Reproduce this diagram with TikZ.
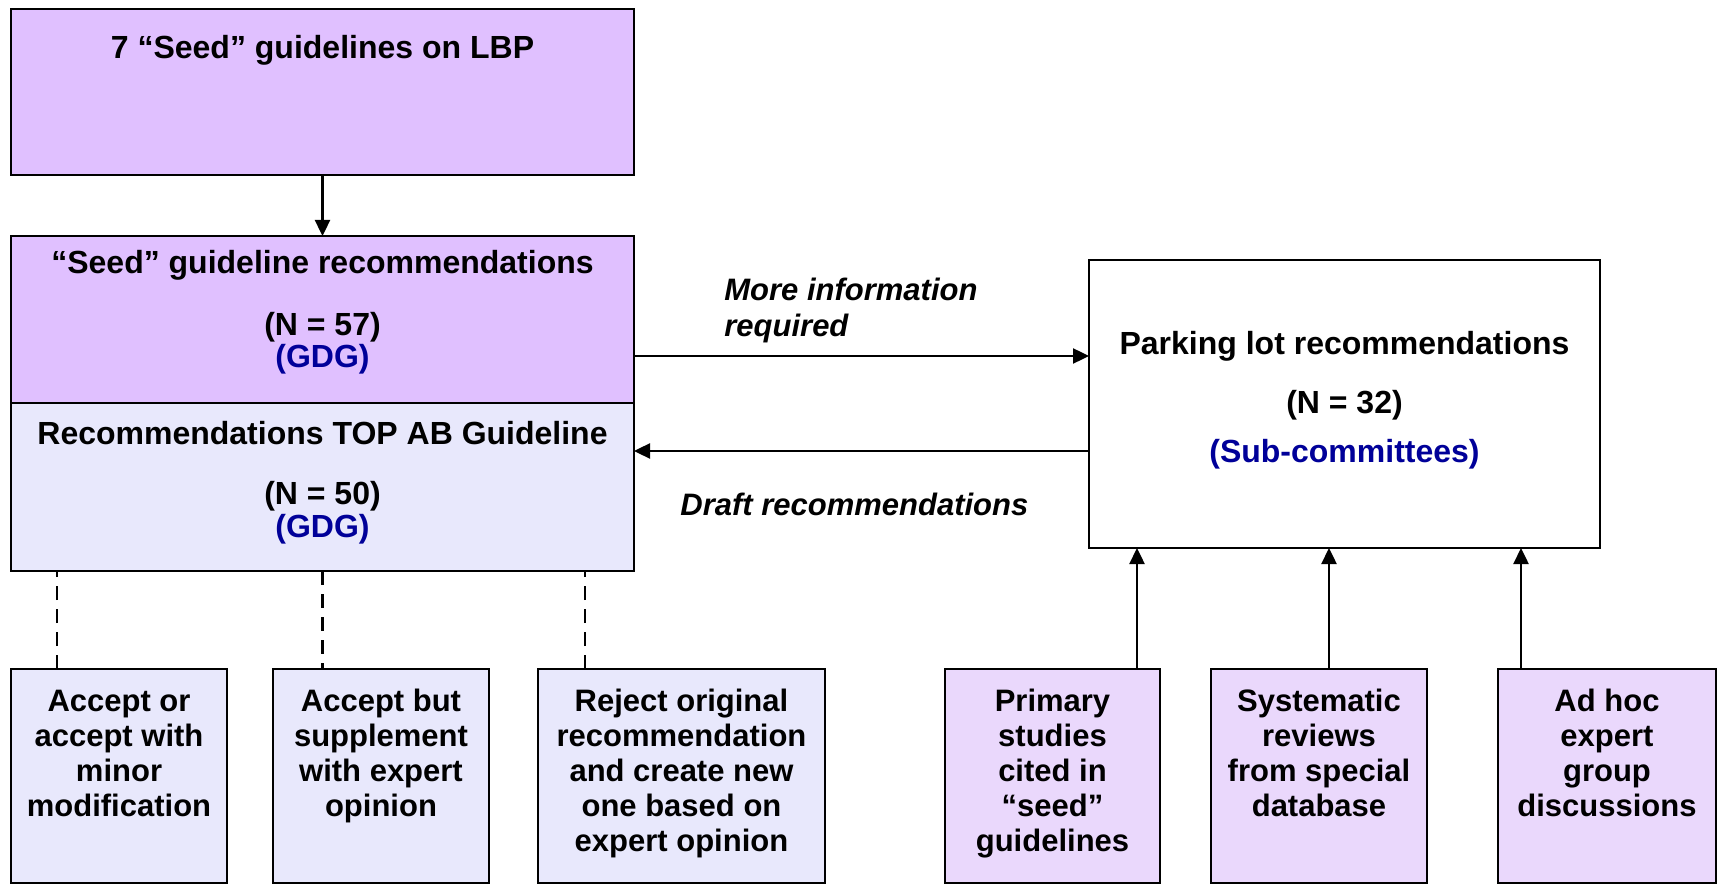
\documentclass[tikz,border=0pt]{standalone}
\usepackage{fontspec}
\setmainfont{Liberation Sans}
\usetikzlibrary{arrows.meta}
\definecolor{seedpurple}{HTML}{E0C0FF}
\definecolor{lavblue}{HTML}{E8E8FC}
\definecolor{srcpurple}{HTML}{EAD8FC}
\definecolor{gdgblue}{HTML}{000099}
% #1 width, #2 height, #3 first-baseline depth, #4 text
\newcommand\boxtext[4]{\parbox[c][#2][t]{#1}{\centering\fontsize{16pt}{17.5pt}\selectfont\bfseries\rule{0pt}{#3}#4}}
\newcommand\smalltext[4]{\parbox[c][#2][t]{#1}{\centering\fontsize{15.5pt}{17.5pt}\selectfont\bfseries\rule{0pt}{#3}#4}}
\newcommand\gdg[1]{\textcolor{gdgblue}{#1}}
\tikzset{
  box/.style={draw, line width=1.2pt, inner sep=0pt, outer sep=0pt},
  arr/.style={line width=1.2pt, -{Triangle[length=8pt,width=7.5pt]}},
  dashline/.style={line width=1.1pt, dash pattern=on 7pt off 4.5pt},
  lbl/.style={inner sep=0pt, font=\fontsize{15.5pt}{18pt}\selectfont\bfseries\itshape},
}
\begin{document}
\begin{tikzpicture}[x=0.5pt,y=-0.5pt]
\useasboundingbox (0,0) rectangle (1719,887);
% top boxes
\node[box, fill=seedpurple] (top) at (322.5,92)
  {\boxtext{311.5pt}{83pt}{25pt}{7 “Seed” guidelines on LBP}};
\node[box, fill=seedpurple] (seed) at (322.5,319.5)
  {\boxtext{311.5pt}{83.5pt}{19pt}{“Seed” guideline recommendations\\[13.5pt](N = 57)\\[-1.5pt]\gdg{(GDG)}}};
\node[box, fill=lavblue] (lav) at (322.5,487)
  {\boxtext{311.5pt}{84pt}{20.5pt}{Recommendations TOP AB Guideline\\[12.5pt](N = 50)\\[-0.5pt]\gdg{(GDG)}}};
\node[box, fill=white] (park) at (1344.5,404)
  {\boxtext{255.5pt}{144pt}{47pt}{Parking lot recommendations\\[12pt](N = 32)\\[7.5pt]\gdg{(Sub-committees)}}};
% bottom left boxes
\node[box, fill=lavblue] (A) at (119,776)
  {\smalltext{108pt}{107pt}{21pt}{Accept or\\accept with\\minor\\modification}};
\node[box, fill=lavblue] (B) at (381,776)
  {\smalltext{108pt}{107pt}{21pt}{Accept but\\supplement\\with expert\\opinion}};
\node[box, fill=lavblue] (C) at (681.5,776)
  {\smalltext{143.5pt}{107pt}{21pt}{Reject original\\recommendation\\and create new\\one based on\\expert opinion}};
% bottom right boxes
\node[box, fill=srcpurple] (D) at (1052.5,776)
  {\smalltext{107.5pt}{107pt}{21pt}{Primary\\studies\\cited in\\“seed”\\guidelines}};
\node[box, fill=srcpurple] (E) at (1319,776)
  {\smalltext{108pt}{107pt}{21pt}{Systematic\\reviews\\from special\\database}};
\node[box, fill=srcpurple] (F) at (1607,776)
  {\smalltext{109pt}{107pt}{21pt}{Ad hoc\\expert\\group\\discussions}};
% connectors
\draw[arr] (top) -- (seed);
\draw[arr] ([yshift=-18.25pt]seed.east) -- ([yshift=-18.25pt]seed.east -| park.west);
\draw[arr] ([yshift=18pt]lav.east -| park.west) -- ([yshift=18pt]lav.east);
\draw[dashline] ([xshift=-31pt]A.north) -- ([xshift=-31pt]A.north |- lav.south);
\draw[dashline] (lav.south) -- (lav.south |- B.north);
\draw[dashline] ([xshift=-48.25pt]C.north) -- ([xshift=-48.25pt]C.north |- lav.south);
\draw[arr] ([xshift=42.25pt]D.north) -- ([xshift=42.25pt]D.north |- park.south);
\draw[arr] ([xshift=5pt]E.north) -- ([xshift=5pt]E.north |- park.south);
\draw[arr] ([xshift=-43pt]F.north) -- ([xshift=-43pt]F.north |- park.south);
% labels
\node[lbl, anchor=base west] (more) at (724,301)
  {\begin{tabular}[t]{@{}l@{}}More information\\required\end{tabular}};
\node[lbl, anchor=base west] (draft) at (680,516) {Draft recommendations};
\end{tikzpicture}
\end{document}
